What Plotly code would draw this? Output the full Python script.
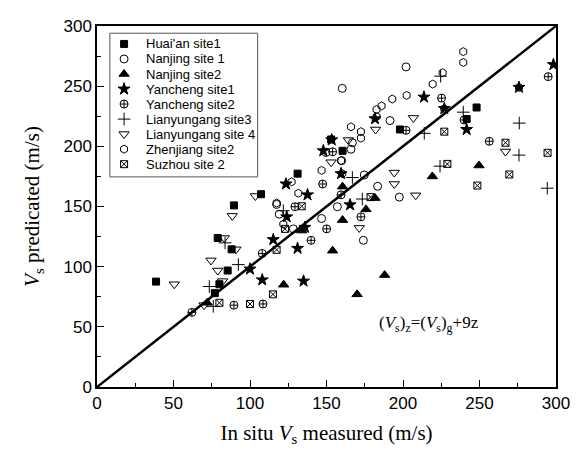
import plotly.graph_objects as go

# ---- data (x = in situ measured, y = predicted), m/s ----
huaian_x = [38.6, 89.5, 78.9, 88.0, 85.4, 80.0, 77.0, 107.2, 131.1, 153.0, 160.5, 248.1, 241.6, 198.0]
huaian_y = [87.6, 150.9, 123.8, 114.4, 96.8, 85.4, 78.0, 160.2, 177.3, 205.7, 196.3, 232.3, 222.7, 214.0]

nanjing1_x = [202.0, 160.3, 191.5, 166.0, 166.9, 159.9, 174.7, 183.4, 197.6, 157.1, 174.1, 146.8, 128.3, 119.1, 117.4, 149.7]
nanjing1_y = [266.0, 248.2, 221.4, 197.6, 203.0, 188.1, 176.2, 166.8, 157.8, 149.8, 121.9, 140.0, 131.4, 143.6, 151.7, 194.9]

nanjing2_x = [160.5, 175.8, 160.5, 133.8, 154.0, 181.7, 219.2, 249.7, 188.0, 122.0, 72.0, 170.0]
nanjing2_y = [166.5, 147.6, 138.7, 130.0, 113.3, 157.0, 175.0, 184.1, 93.0, 85.0, 70.0, 77.0]

yancheng1_x = [298.3, 275.8, 213.7, 227.0, 181.7, 241.6, 153.4, 147.9, 159.5, 123.5, 137.6, 165.4, 124.0, 135.9, 115.2, 131.1, 100.0, 108.0, 135.0]
yancheng1_y = [267.9, 249.0, 240.9, 231.4, 222.9, 214.0, 205.4, 196.3, 177.3, 168.7, 159.7, 151.4, 141.4, 132.7, 122.5, 115.2, 98.0, 89.0, 88.0]

yancheng2_x = [294.9, 225.2, 239.9, 202.0, 256.4, 154.0, 147.5, 159.5, 129.4, 172.5, 150.1, 139.9, 108.0, 89.5, 108.5, 62.0]
yancheng2_y = [257.9, 240.1, 221.9, 213.3, 204.2, 195.5, 168.7, 159.7, 149.8, 141.4, 131.4, 121.9, 111.0, 68.0, 69.0, 62.0]

lyg3_x = [224.6, 239.4, 213.9, 276.0, 275.8, 224.2, 294.3, 166.9, 173.4, 121.8, 92.4, 83.7, 73.4, 76.0]
lyg3_y = [258.3, 228.4, 210.8, 219.3, 192.7, 183.5, 165.2, 174.1, 156.2, 146.5, 101.7, 119.8, 83.5, 67.0]

lyg4_x = [206.8, 182.1, 164.3, 153.0, 267.0, 194.3, 194.3, 208.3, 171.4, 103.5, 88.4, 83.2, 90.8, 74.5, 78.9, 82.1, 50.5, 70.0]
lyg4_y = [223.6, 214.0, 205.2, 186.8, 195.7, 178.2, 168.7, 159.3, 132.2, 158.7, 142.2, 123.8, 114.4, 105.2, 96.8, 88.0, 85.4, 68.0]

zhenjiang_x = [239.4, 239.4, 225.9, 219.4, 202.4, 193.0, 186.0, 182.7, 182.7, 166.0, 172.5, 172.5, 159.5, 146.8, 127.2, 131.6, 117.4, 121.8, 275.8, 227.0, 160.3]
zhenjiang_y = [278.7, 269.7, 261.2, 251.7, 242.3, 239.3, 233.6, 230.6, 224.7, 216.2, 212.2, 206.8, 188.1, 180.0, 170.5, 161.0, 152.9, 135.4, 249.0, 231.4, 177.3]

suzhou_x = [227.0, 267.0, 294.5, 229.0, 269.5, 248.6, 178.8, 133.8, 122.9, 117.4, 115.0, 100.0, 80.0]
suzhou_y = [212.2, 203.0, 194.6, 185.4, 176.6, 167.4, 157.8, 150.2, 131.4, 114.0, 77.0, 69.0, 70.0]

line_x = [0, 300]
line_y = [0, 300]

series_names = ["Huai'an site1", "Nanjing site 1", "Nanjing site2", "Yancheng site1", "Yancheng site2",
                "Lianyungang site3", "Lianyungang site 4", "Zhenjiang site2", "Suzhou site 2"]
series_x = [huaian_x, nanjing1_x, nanjing2_x, yancheng1_x, yancheng2_x, lyg3_x, lyg4_x, zhenjiang_x, suzhou_x]
series_y = [huaian_y, nanjing1_y, nanjing2_y, yancheng1_y, yancheng2_y, lyg3_y, lyg4_y, zhenjiang_y, suzhou_y]
symbols = ["square", "circle-open", "triangle-up", "star", "circle-cross-open",
           "cross-thin-open", "triangle-down-open", "hexagon-open", "square-x-open"]
sizes = [7, 8, 9, 9, 8, 9, 9, 8, 7]

fig = go.Figure()
fig.add_trace(go.Scatter(x=line_x, y=line_y, mode="lines",
                         line=dict(color="black", width=2.5), showlegend=False, hoverinfo="skip"))
for name, xs, ys, sym, sz in zip(series_names, series_x, series_y, symbols, sizes):
    fig.add_trace(go.Scatter(
        x=xs, y=ys, mode="markers", name=name, showlegend=False,
        marker=dict(symbol=sym, size=sz, color="black", line=dict(color="black", width=1)),
    ))

# ---- compact legend (box + key markers + real text labels) ----
plot_h = 370.0
leg_left, leg_right = 0.028, 0.350
leg_top, leg_bottom = 0.980, 0.582
row0_px, row_step_px = 11.0, 15.4     # offset of first row below box top, row spacing (px)
key_x = 0.059
text_x = 0.103
row_y = [leg_top - (row0_px + i * row_step_px) / plot_h for i in range(len(series_names))]

fig.add_shape(type="rect", xref="paper", yref="paper",
              x0=leg_left, x1=leg_right, y0=leg_bottom, y1=leg_top,
              line=dict(color="#555555", width=1), fillcolor="white", layer="below")
for i, (name, sym, sz) in enumerate(zip(series_names, symbols, sizes)):
    fig.add_trace(go.Scatter(
        x=[key_x], y=[row_y[i]], xaxis="x2", yaxis="y2", mode="markers",
        showlegend=False, hoverinfo="skip",
        marker=dict(symbol=sym, size=sz, color="black", line=dict(color="black", width=1)),
    ))
    fig.add_annotation(x=text_x, y=row_y[i], xref="paper", yref="paper", text=name,
                       showarrow=False, xanchor="left", yanchor="middle",
                       font=dict(family="Liberation Sans, Arial", size=13, color="black"))

axis_common = dict(
    range=[0, 300], dtick=50, showgrid=False, zeroline=False,
    showline=True, linecolor="black", linewidth=1.5, mirror=True,
    ticks="inside", ticklen=7, tickwidth=1.2, tickcolor="black",
    minor=dict(ticks="inside", dtick=25, ticklen=4, tickwidth=1, tickcolor="black"),
    tickfont=dict(family="Liberation Sans, Arial", size=17, color="black"),
    ticklabeloverflow="allow",
)

fig.update_layout(
    width=585, height=461,
    margin=dict(l=89, r=37, t=9, b=82),
    paper_bgcolor="white", plot_bgcolor="white",
    showlegend=False,
    xaxis=dict(axis_common,
               title=dict(text="In situ <i>V</i><sub>s</sub> measured (m/s)",
                          font=dict(family="Liberation Serif, Times New Roman", size=21, color="black"),
                          standoff=13)),
    yaxis=dict(axis_common,
               title=dict(text="<i>V</i><sub>s</sub> predicated (m/s)",
                          font=dict(family="Liberation Serif, Times New Roman", size=21, color="black"),
                          standoff=18)),
    xaxis2=dict(overlaying="x", range=[0, 1], visible=False, fixedrange=True),
    yaxis2=dict(overlaying="y", range=[0, 1], visible=False, fixedrange=True),
    annotations=list(fig.layout.annotations) + [dict(
        x=217, y=52, xref="x", yref="y", showarrow=False,
        text="(<i>V</i><sub>s</sub>)<sub>z</sub>=(<i>V</i><sub>s</sub>)<sub>g</sub>+9z",
        font=dict(family="Liberation Serif, Times New Roman", size=17, color="black"),
    )],
)

fig.write_html("out.html")
